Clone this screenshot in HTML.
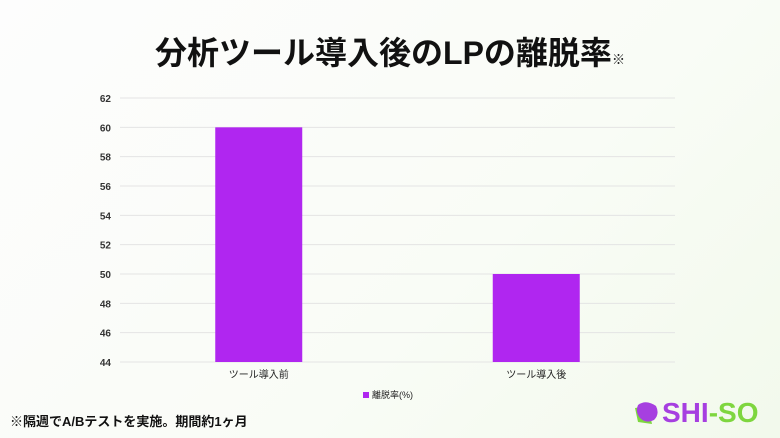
<!DOCTYPE html>
<html><head><meta charset="utf-8"><style>
body{margin:0;width:780px;height:438px;overflow:hidden;background:linear-gradient(135deg,#fdfdfd 0%,#f9fcf6 60%,#f2f9ec 100%);font-family:"Liberation Sans","Noto Sans CJK JP",sans-serif;position:relative}
#title{position:absolute;left:0;width:780px;top:28px;text-align:center;font-size:32px;font-weight:bold;color:#111}
#title small{font-size:13px;font-weight:normal}
#note{position:absolute;left:10px;top:411px;font-size:13px;font-weight:bold;color:#111}
#logo{position:absolute;left:632px;top:397px;display:flex;align-items:center;font-weight:bold;font-size:28px}
</style></head><body>
<div id="title">分析ツール導入後のLPの離脱率<small>※</small></div>
<svg id="chart" width="780" height="438" style="position:absolute;left:0;top:0"></svg>
<div id="note">※隔週でA/Bテストを実施。期間約1ヶ月</div>
<div id="logo">
<svg width="30" height="26" viewBox="0 0 30 26"><path d="M3 8 L16 6 L20 24 L6 22 Z" fill="#7ed63f"/><path d="M6 5 Q14 -1 24 6 Q28 14 22 20 Q14 24 8 18 Q3 12 6 5Z" fill="#a63fe0"/></svg>
<span style="color:#a63fe0">SHI</span><span style="color:#7ed63f">-SO</span></div>
<script>
const categories=["ツール導入前","ツール導入後"];
const values=[60,50];
const ticks=[44,46,48,50,52,54,56,58,60,62];
const legendLabel="離脱率(%)";
const ns="http://www.w3.org/2000/svg";
const svg=document.getElementById('chart');
const x0=120,x1=675,yTop=98,yBot=362,vMin=44,vMax=62;
const y=v=>yBot-(v-vMin)/(vMax-vMin)*(yBot-yTop);
const band=(x1-x0)/categories.length;
function mk(t,a){const e=document.createElementNS(ns,t);for(const k in a)e.setAttribute(k,a[k]);svg.appendChild(e);return e;}
ticks.forEach(t=>{
 const l=mk('line',{x1:x0,x2:x1,y1:y(t),y2:y(t),stroke:'#e4e4e4','stroke-width':1});
 
 
 const tx=mk('text',{x:111,y:y(t)+4,'text-anchor':'end','font-size':10,'font-weight':'bold',fill:'#333'});
 tx.textContent=t;
 
 
});
categories.forEach((c,i)=>{
 const cx=x0+band*(i+0.5), w=87;
 const r=mk('rect',{x:cx-w/2,y:y(values[i]),width:w,height:yBot-y(values[i]),fill:'#b026f0'});
 
 
 const tx=mk('text',{x:cx,y:378,'text-anchor':'middle','font-size':10,fill:'#222'});
 tx.textContent=c;
 
 
});
const lr=mk('rect',{x:363,y:392,width:6,height:6,fill:'#b026f0'});


const lt=mk('text',{x:372,y:398,'font-size':9,fill:'#222'});
lt.textContent=legendLabel;


</script>
</body></html>
